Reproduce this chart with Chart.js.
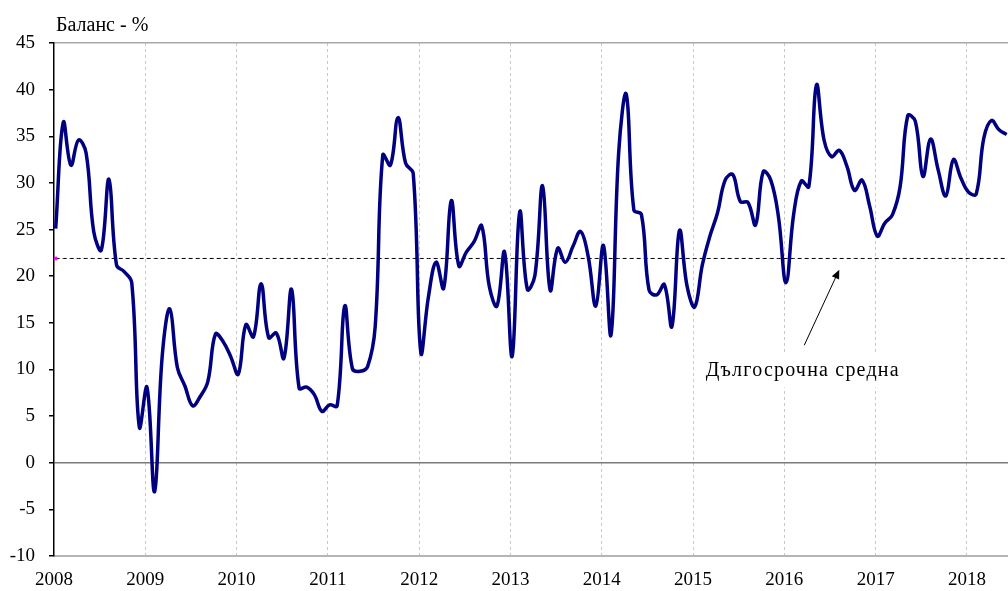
<!DOCTYPE html>
<html>
<head>
<meta charset="utf-8">
<script src="https://cdn.jsdelivr.net/npm/chart.js@4"></script>
<style>
  html, body { margin: 0; padding: 0; background: #fff; }
  #wrap { width: 1008px; height: 591px; position: relative; }
</style>
</head>
<body>
<div id="wrap"><canvas id="c"></canvas></div>
<script>
// --- data: monthly balance, Jan 2008 .. Jun 2018 ---
const year_labels = ['2008','2009','2010','2011','2012','2013','2014','2015','2016','2017','2018'];
const balance = [
  25.1, 36.5, 31.9, 34.6, 33.2, 24.8, 22.8, 30.4, 21.2, 20.5, 19.3, 3.8,   // 2008
  8.1, -3.1, 11.4, 16.5, 10.2, 8.2, 6.1, 7.1, 8.7, 13.8, 13.0, 11.4,      // 2009
  9.5, 14.8, 13.5, 19.2, 13.4, 13.9, 11.2, 18.6, 8.0, 8.1, 7.3, 5.5,      // 2010
  6.2, 6.1, 16.8, 10.1, 9.8, 10.3, 14.6, 33.0, 31.9, 37.0, 32.1, 31.0,    // 2011
  11.8, 17.8, 21.5, 18.7, 28.1, 21.1, 22.6, 23.7, 25.4, 18.9, 16.8, 22.6, // 2012
  11.4, 26.9, 18.6, 20.1, 29.7, 18.5, 23.0, 21.5, 23.2, 24.8, 22.1, 16.8, // 2013
  23.3, 13.7, 33.2, 39.5, 27.1, 26.6, 18.5, 18.0, 19.1, 14.6, 24.9, 18.9, // 2014
  16.7, 21.2, 24.3, 26.8, 30.3, 30.9, 28.0, 27.9, 25.5, 31.2, 30.3, 26.4, // 2015
  19.3, 26.6, 30.2, 29.6, 40.5, 34.6, 32.8, 33.5, 31.8, 29.2, 30.3, 27.5, // 2016
  24.3, 25.7, 26.6, 29.6, 37.2, 36.6, 30.7, 34.7, 31.4, 28.6, 32.5, 30.5, // 2017
  29.0, 28.8, 34.8, 36.7, 35.7, 35.2                                       // 2018
];
const long_term_avg = 21.9;
const y_title = 'Баланс - %';
const note_text = 'Дългосрочна средна';

const FONT = "'Liberation Serif', 'Times New Roman', serif";
const X_MIN = -0.22, X_MAX = 125.18;

// title above the plot + callout text with arrow to the average line
const annotPlugin = {
  id: 'annot',
  afterDatasetsDraw(chart) {
    const { ctx, chartArea, scales: { x, y } } = chart;
    ctx.save();
    ctx.fillStyle = '#000';
    ctx.font = '20px ' + FONT;
    ctx.textBaseline = 'alphabetic';
    ctx.textAlign = 'left';
    ctx.fillText(y_title, chartArea.left + 2, chartArea.top - 12);

    // callout label on white box
    const tx = x.getPixelForValue(98.2), ty = y.getPixelForValue(9.9);
    ctx.font = '20px ' + FONT;
    ctx.letterSpacing = '1.2px';
    const w = ctx.measureText(note_text).width;
    ctx.fillStyle = '#fff';
    ctx.fillRect(tx - w / 2 - 10, ty - 17, w + 20, 34);
    ctx.fillStyle = '#000';
    ctx.textAlign = 'center';
    ctx.textBaseline = 'middle';
    ctx.fillText(note_text, tx, ty);
    ctx.letterSpacing = '0px';

    // arrow
    const x0 = x.getPixelForValue(98.4), y0 = y.getPixelForValue(12.6);
    const x1 = x.getPixelForValue(103.0), y1 = y.getPixelForValue(20.7);
    const ang = Math.atan2(y1 - y0, x1 - x0);
    ctx.strokeStyle = '#000';
    ctx.lineWidth = 1;
    ctx.beginPath();
    ctx.moveTo(x0, y0);
    ctx.lineTo(x1 - 6 * Math.cos(ang), y1 - 6 * Math.sin(ang));
    ctx.stroke();
    ctx.beginPath();
    ctx.moveTo(x1, y1);
    ctx.lineTo(x1 - 9 * Math.cos(ang) + 4 * Math.sin(ang), y1 - 9 * Math.sin(ang) - 4 * Math.cos(ang));
    ctx.lineTo(x1 - 9 * Math.cos(ang) - 4 * Math.sin(ang), y1 - 9 * Math.sin(ang) + 4 * Math.cos(ang));
    ctx.closePath();
    ctx.fill();
    ctx.restore();
  }
};

new Chart(document.getElementById('c'), {
  type: 'line',
  data: {
    datasets: [
      {
        label: 'Баланс',
        data: balance.map((v, i) => ({ x: i, y: v })),
        borderColor: '#000080',
        borderWidth: 3.5,
        pointRadius: 0,
        tension: 0.4,
        fill: false,
        order: 1
      },
      {
        label: 'Дългосрочна средна',
        data: balance.map((v, i) => ({ x: i, y: long_term_avg })),
        borderColor: '#000',
        borderWidth: 1,
        borderDash: [4, 3],
        pointRadius: balance.map((v, i) => i === 0 ? 2.5 : 0),
        pointStyle: 'rect',
        pointBackgroundColor: '#ff00ff',
        pointBorderColor: '#ff00ff',
        pointBorderWidth: 0,
        tension: 0,
        fill: false,
        clip: false,
        order: 2
      }
    ]
  },
  options: {
    responsive: true,
    maintainAspectRatio: false,
    animation: false,
    layout: { autoPadding: false, padding: { top: 43, right: 0, left: 0, bottom: 0 } },
    plugins: { legend: { display: false }, tooltip: { enabled: false } },
    scales: {
      x: {
        type: 'linear',
        min: X_MIN,
        max: X_MAX,
        afterBuildTicks: (s) => { s.ticks = year_labels.map((l, i) => ({ value: 12 * i + X_MIN })); },
        afterFit: (s) => { s.height = 35; },
        ticks: {
          color: '#000',
          font: { family: FONT, size: 19 },
          padding: 13,
          maxRotation: 0,
          autoSkip: false,
          callback: (v, i) => year_labels[i]
        },
        grid: {
          drawTicks: false,
          color: (c) => c.index === 0 ? 'rgba(0,0,0,0)' : '#c8c8c8',
          lineWidth: 1
        },
        border: { color: '#b4b4b4', width: 2, dash: [3, 3] }
      },
      y: {
        min: -10,
        max: 45,
        afterFit: (s) => { s.width = 54; },
        ticks: {
          stepSize: 5,
          color: '#000',
          font: { family: FONT, size: 19 },
          padding: 14
        },
        grid: {
          tickLength: 5,
          tickColor: '#000',
          color: (c) => c.tick.value === 0 ? '#7a7a7a' : (c.tick.value === 45 ? '#a8a8a8' : 'rgba(0,0,0,0)'),
          lineWidth: 1.5
        },
        border: { color: '#000', width: 1.5 }
      }
    }
  },
  plugins: [annotPlugin]
});
</script>
</body>
</html>
